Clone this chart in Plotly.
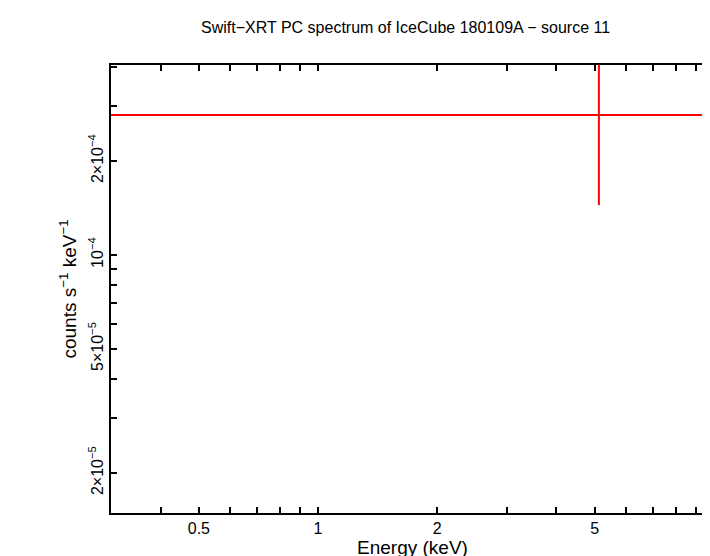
import plotly.graph_objects as go

energy = [5.12]
energy_lo = [0.3]
energy_hi = [10.0]
rate = [2.81e-4]
rate_err = [1.365e-4]

ytick_vals = [2e-5, 3e-5, 4e-5, 5e-5, 6e-5, 7e-5, 8e-5, 9e-5, 1e-4, 2e-4, 3e-4, 4e-4]
ytick_text = ["2×10<sup>−5</sup>", "", "", "5×10<sup>−5</sup>", "", "", "", "", "10<sup>−4</sup>", "2×10<sup>−4</sup>", "", ""]
xtick_vals = [0.3, 0.4, 0.5, 0.6, 0.7, 0.8, 0.9, 1, 2, 3, 4, 5, 6, 7, 8, 9]
xtick_text = ["", "", "0.5", "", "", "", "", "1", "2", "", "", "5", "", "", "", ""]

fig = go.Figure(go.Scatter(
    x=energy, y=rate, mode="markers", marker=dict(size=1, color="red"),
    error_x=dict(type="data", symmetric=False,
                 array=[h - e for h, e in zip(energy_hi, energy)],
                 arrayminus=[e - l for e, l in zip(energy, energy_lo)],
                 color="red", thickness=2, width=0),
    error_y=dict(type="data", array=rate_err, color="red", thickness=2, width=0),
    showlegend=False))

axis_common = dict(showline=True, linecolor="black", linewidth=2, mirror="ticks",
                   ticks="inside", ticklen=6, tickwidth=1.5, tickcolor="black",
                   showgrid=False, zeroline=False)

fig.update_xaxes(type="log", range=[-0.523, 1.0], tickvals=xtick_vals, ticktext=xtick_text,
                 title=dict(text="Energy (keV)", standoff=2), **axis_common)
fig.update_yaxes(type="log", range=[-4.827, -3.391],
                 tickvals=ytick_vals, ticktext=ytick_text, tickangle=-90,
                 title=dict(text="counts s<sup>−1</sup> keV<sup>−1</sup>", standoff=4), **axis_common)

fig.update_layout(
    width=710, height=556, paper_bgcolor="white", plot_bgcolor="white",
    font=dict(family="Liberation Sans, Arial", size=16, color="black"),
    title=dict(text="Swift−XRT PC spectrum of IceCube 180109A − source 11", x=0.56, y=0.975,
               xanchor="center", font=dict(size=16)),
    margin=dict(l=103, r=2, t=57, b=51),
)
fig.write_html("out.html")
